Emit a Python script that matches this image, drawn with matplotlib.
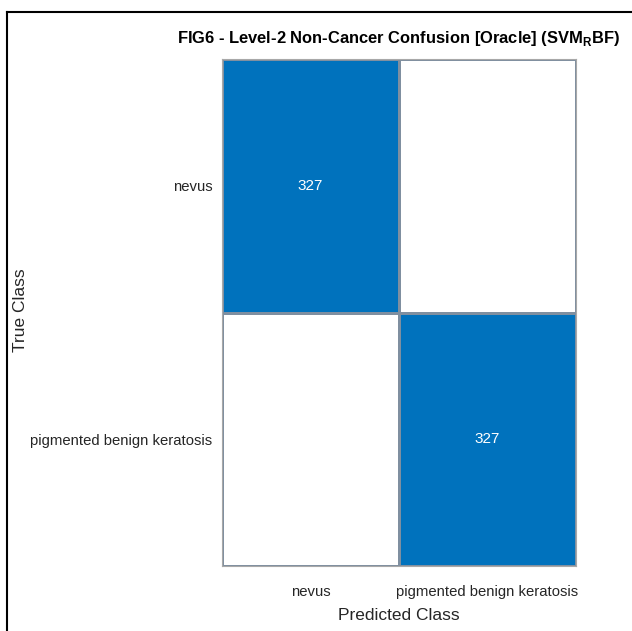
import numpy as np
import matplotlib
matplotlib.use("Agg")
import matplotlib.pyplot as plt
from matplotlib.colors import LinearSegmentedColormap
from matplotlib.lines import Line2D

classes = ["nevus", "pigmented benign keratosis"]
counts = np.array([[327, 0],
                   [0, 327]])
title = "FIG6 - Level-2 Non-Cancer Confusion [Oracle] (SVM$_{\\mathregular{R}}$BF)"

font = ["Liberation Sans", "DejaVu Sans"]

fig = plt.figure(figsize=(6.32, 6.31), dpi=100)
ax = fig.add_axes([222 / 632, 1 - 566 / 631, 354 / 632, 507 / 631])

cmap = LinearSegmentedColormap.from_list("mat", ["#ffffff", "#0072bd"])
ax.pcolormesh(counts, cmap=cmap, vmin=0, vmax=counts.max(),
              edgecolors="#7f8fa0", linewidth=0.8)
ax.set_xlim(0, len(classes))
ax.set_ylim(len(classes), 0)

for i in range(len(classes)):
    for j in range(len(classes)):
        if counts[i, j] > 0:
            ax.text(j + 0.5, i + 0.5, str(counts[i, j]), ha="center", va="center",
                    color="white", fontsize=11, family=font)

ax.set_xticks(np.arange(len(classes)) + 0.5)
ax.set_yticks(np.arange(len(classes)) + 0.5)
ax.set_xticklabels(classes, family=font, fontsize=10.7, color="#262626")
ax.set_yticklabels(classes, family=font, fontsize=10.7, color="#262626")
ax.tick_params(axis="x", length=0, pad=14)
ax.tick_params(axis="y", length=0, pad=7)
for s in ax.spines.values():
    s.set_color("#a8a8a8")
    s.set_linewidth(0.8)

ax.set_xlabel("Predicted Class", family=font, fontsize=12.5, color="#262626", labelpad=6)
fig.text(21 / 632, 1 - 310 / 631, "True Class", rotation=90, ha="center", va="center",
         fontsize=12.5, color="#262626", family=font)
fig.text(398 / 632, 1 - 38 / 631, title, ha="center", va="center",
         fontsize=11.9, fontweight="bold", family=font)

# frame lines
fig.add_artist(Line2D([7 / 632, 1], [1 - 12 / 631, 1 - 12 / 631], color="black", lw=1.5))
fig.add_artist(Line2D([7 / 632, 7 / 632], [0, 1 - 12 / 631], color="black", lw=1.5))

fig.savefig("out.png", dpi=100)
